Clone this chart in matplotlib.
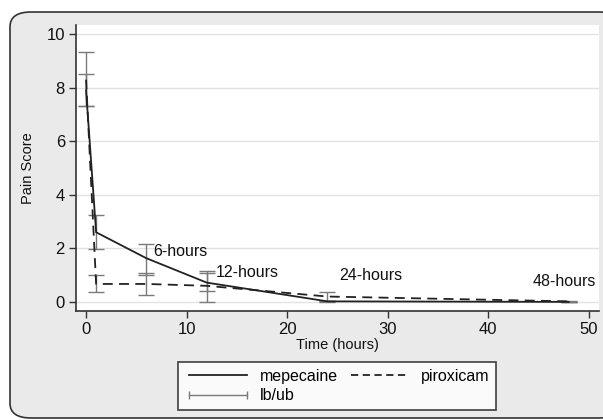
import matplotlib
matplotlib.use('Agg')
import matplotlib.pyplot as plt
from matplotlib.lines import Line2D
from matplotlib.patches import FancyBboxPatch

# pain scores over time for the two drugs
hours = [0, 1, 6, 12, 24, 48]
mepecaine = [7.9, 2.6, 1.63, 0.72, 0.02, 0.0]
mepecaine_lb = [7.3, 1.98, 1.02, 0.42, 0.0, 0.0]
mepecaine_ub = [8.5, 3.25, 2.18, 1.17, 0.05, 0.0]
piroxicam = [8.3, 0.67, 0.67, 0.6, 0.2, 0.02]
piroxicam_lb = [7.3, 0.37, 0.25, 0.0, 0.04, 0.0]
piroxicam_ub = [9.33, 1.0, 1.09, 1.09, 0.38, 0.04]
time_labels = ['6-hours', '12-hours', '24-hours', '48-hours']
label_x = [6.7, 12.9, 25.2, 44.4]
label_y = [1.88, 1.08, 0.97, 0.78]

plt.rcParams['font.family'] = 'Liberation Sans'

W, H = 603, 420
fig = plt.figure(figsize=(W / 100, H / 100), dpi=100)
fig.patch.set_facecolor('white')

# rounded outer frame
frame = FancyBboxPatch((10 / W, 2 / H), (620 - 10) / W, (408 - 2) / H,
                       boxstyle='round,pad=0,rounding_size=0.035',
                       transform=fig.transFigure, facecolor='#eaeaea',
                       edgecolor='#333333', linewidth=1.2, zorder=-5)
fig.patches.append(frame)

ax = fig.add_axes([76 / W, (H - 311) / H, (599 - 76) / W, (311 - 25) / H])
ax.set_zorder(2)
ax.set_facecolor('white')
ax.set_xlim(-1.0, 51.0)
ax.set_ylim(-0.34, 10.34)

for y in [0, 2, 4, 6, 8, 10]:
    ax.axhline(y, color='#e2e2e2', lw=1, zorder=0)

err_col = '#7a7a7a'
ax.errorbar(hours, [(a + b) / 2 for a, b in zip(mepecaine_lb, mepecaine_ub)],
            yerr=[[(b - a) / 2 for a, b in zip(mepecaine_lb, mepecaine_ub)]] * 2,
            fmt='none', ecolor=err_col, elinewidth=1, capsize=5.5, capthick=1, zorder=2)
ax.errorbar(hours, [(a + b) / 2 for a, b in zip(piroxicam_lb, piroxicam_ub)],
            yerr=[[(b - a) / 2 for a, b in zip(piroxicam_lb, piroxicam_ub)]] * 2,
            fmt='none', ecolor=err_col, elinewidth=1, capsize=5.5, capthick=1, zorder=2)

ax.plot(hours, mepecaine, color='#222222', lw=1.3, zorder=3)
ax.plot(hours, piroxicam, color='#222222', lw=1.3, dashes=(5.5, 3.5), zorder=3)

for txt, x, y in zip(time_labels, label_x, label_y):
    ax.text(x, y, txt, fontsize=11.5, va='center', ha='left', color='#111111')

ax.set_xticks([0, 10, 20, 30, 40, 50])
ax.set_yticks([0, 2, 4, 6, 8, 10])
ax.tick_params(direction='out', length=5, width=1, color='#333333',
               labelsize=12, labelcolor='#111111', pad=3)
for s in ['top', 'right']:
    ax.spines[s].set_visible(False)
for s in ['left', 'bottom']:
    ax.spines[s].set_color('#333333')
    ax.spines[s].set_linewidth(1.2)

ax.set_xlabel('Time (hours)', fontsize=10.5, labelpad=1, color='#111111')
ax.set_ylabel('Pain Score', fontsize=10.5, labelpad=8, color='#111111')

handles = [
    Line2D([], [], color='#222222', lw=1.3),
    Line2D([], [], color=err_col, lw=1, marker='|', markersize=6, markeredgewidth=1),
    Line2D([], [], color='#222222', lw=1.3, dashes=(4, 2.5)),
]
labels = ['mepecaine', 'lb/ub', 'piroxicam']
leg = fig.legend(handles, labels, loc='center', bbox_to_anchor=(337 / W, (H - 386) / H),
                 ncol=2, fontsize=11.5, frameon=True, fancybox=False, numpoints=2,
                 handlelength=4.2, handletextpad=0.5, columnspacing=0.5,
                 labelspacing=0.3, borderpad=0.4)
leg.get_frame().set_edgecolor('#111111')
leg.get_frame().set_linewidth(1.2)

fig.savefig('out.png', dpi=100)
